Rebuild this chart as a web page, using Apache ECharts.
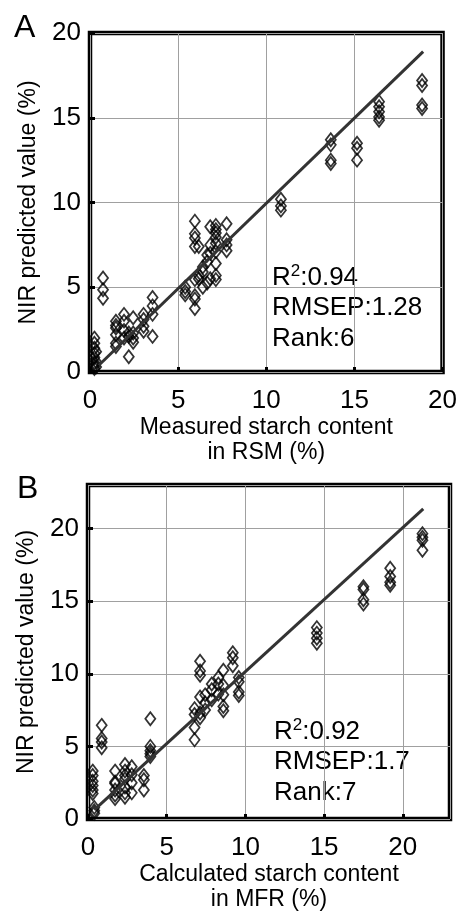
<!DOCTYPE html>
<html>
<head>
<meta charset="utf-8">
<script src="https://cdn.jsdelivr.net/npm/echarts@6/dist/echarts.min.js"></script>
<style>
  html, body { margin: 0; padding: 0; background: #fff; }
  #chart { width: 460px; height: 913px; }
</style>
</head>
<body>
<div id="chart"></div>
<script>
// panel A: RSM, measured vs predicted
var rsmMeasured = [
    0.25, 0.25, 0.25, 0.25, 0.25, 0.25, 0.25, 0.25, 0.35, 0.35, 0.35,
    0.74, 0.74, 0.74,
    1.47, 1.47, 1.47, 1.47, 1.47, 1.47,
    1.93, 1.93, 1.93, 1.93,
    2.2, 2.2, 2.2,
    2.45, 2.45, 2.45, 2.45,
    3.04, 3.04, 3.04, 3.04,
    3.55, 3.55, 3.55, 3.55,
    5.4, 5.4, 5.4,
    5.95, 5.95, 5.95, 5.95, 5.95, 5.95, 5.95, 5.95,
    6.17, 6.17, 6.17,
    6.4, 6.4, 6.4,
    6.65, 6.65, 6.65,
    6.82, 6.82, 6.82, 6.82,
    7.14, 7.14, 7.14, 7.14, 7.14, 7.14, 7.14, 7.14, 7.14,
    7.75, 7.75, 7.75, 7.75,
    10.83, 10.83, 10.83,
    13.66, 13.66, 13.66, 13.66,
    15.15, 15.15, 15.15,
    16.4, 16.4, 16.4, 16.4, 16.4,
    18.84, 18.84, 18.84, 18.84
];
var rsmPredicted = [
    2.0, 1.7, 1.4, 1.1, 0.85, 0.55, 0.35, 0.2, 1.2, 0.6, 0.3,
    5.55, 4.85, 4.35,
    3.0, 2.75, 2.6, 2.2, 1.7, 1.5,
    3.4, 3.0, 2.45, 2.0,
    0.9, 2.3, 2.1,
    3.2, 2.3, 2.0, 1.75,
    3.4, 3.1, 2.7, 2.4,
    4.4, 3.9, 3.4, 2.1,
    5.0, 4.75, 4.55,
    8.9, 8.15, 7.9, 7.4, 5.45, 4.5, 4.3, 3.75,
    7.4, 5.7, 5.5,
    6.2, 5.9, 5.0,
    6.9, 6.5, 5.25,
    8.57, 7.5, 7.0, 5.5,
    8.65, 8.4, 8.2, 7.95, 7.6, 7.1, 6.4, 5.7, 5.45,
    8.75, 7.8, 7.5, 7.15,
    10.19, 9.8, 9.55,
    13.7, 13.4, 12.5, 12.3,
    13.5, 13.2, 12.5,
    15.95, 15.65, 15.35, 15.05, 14.85,
    17.2, 16.9, 15.75, 15.55
];
var rsmFitX = [0.5, 18.9];
var rsmFitY = [0.4, 18.9];

// panel B: MFR, calculated vs predicted
var mfrCalculated = [
    0.3, 0.3, 0.3, 0.3, 0.3, 0.3, 0.4, 0.4, 0.4,
    0.87, 0.87, 0.87, 0.87,
    1.72, 1.72, 1.72, 1.72, 1.72, 1.72,
    2.35, 2.35, 2.35, 2.35, 2.35, 2.35, 2.35,
    2.78, 2.78, 2.78, 2.78,
    3.55, 3.55, 3.55,
    3.96, 3.96, 3.96, 3.96, 3.96,
    6.77, 6.77, 6.77, 6.77,
    7.12, 7.12, 7.12, 7.12, 7.12, 7.12,
    7.44, 7.44, 7.44,
    7.86, 7.86, 7.86,
    8.28, 8.28, 8.28,
    8.6, 8.6, 8.6, 8.6, 8.6,
    9.2, 9.2, 9.2,
    9.58, 9.58, 9.58, 9.58,
    14.54, 14.54, 14.54, 14.54,
    17.5, 17.5, 17.5, 17.5,
    19.2, 19.2, 19.2, 19.2,
    21.25, 21.25, 21.25, 21.25
];
var mfrPredicted = [
    3.3, 3.0, 2.6, 2.3, 2.0, 1.75, 0.8, 0.57, 0.4,
    6.45, 5.55, 5.3, 4.9,
    3.3, 2.55, 2.45, 2.0, 1.65, 1.4,
    3.75, 3.3, 3.0, 2.75, 2.2, 1.8, 1.5,
    3.6, 3.05, 2.5, 1.8,
    3.0, 2.7, 2.0,
    6.9, 5.0, 4.7, 4.5, 4.3,
    7.6, 7.2, 6.3, 5.45,
    10.86, 10.2, 9.9, 8.4, 7.3, 6.97,
    8.55, 8.0, 7.5,
    9.3, 8.9, 8.2,
    9.75, 9.3, 8.6,
    10.25, 9.2, 8.55, 7.75, 7.45,
    11.45, 11.1, 10.55,
    9.75, 9.45, 8.75, 8.5,
    13.18, 12.8, 12.45, 12.1,
    16.0, 15.8, 15.1, 14.8,
    17.27, 16.7, 16.3, 16.1,
    19.65, 19.4, 19.2, 18.5
];
var mfrFitX = [0.4, 21.3];
var mfrFitY = [0.63, 21.36];

var axisTicks = [0, 5, 10, 15, 20];

function pairs(xs, ys) {
    return xs.map(function(x, i) { return [x, ys[i]]; });
}

var font = "'Liberation Sans', Arial, sans-serif";

function valueAxis(idx, max, name, gap, pos) {
    return {
        type: 'value',
        gridIndex: idx,
        position: pos,
        min: 0,
        max: max,
        interval: 5,
        name: name,
        nameLocation: 'middle',
        nameGap: gap,
        nameTextStyle: {fontFamily: font, fontSize: 23, color: '#000', lineHeight: 25},
        axisLine: {show: false},
        axisTick: {show: true, inside: true, length: 5, lineStyle: {color: '#000', width: 3}},
        axisLabel: {
            fontFamily: font, fontSize: 26, color: '#000',
            margin: pos == 'left' ? 9 : 16,
            showMaxLabel: max == 20,
            formatter: function(v) {
                return axisTicks.indexOf(v) >= 0 ? String(v) : '';
            }
        },
        splitLine: {show: true, lineStyle: {color: '#a0a0a0', width: 1}}
    };
}

// stats box text, R with a raised 2
function statsText(r2, rmsep, rank, left, top) {
    return {
        type: 'text', left: left, top: top,
        style: {
            text: '{t|R}{s|2}{t|:' + r2 + '}\n{t|RMSEP:' + rmsep + '}\n{t|Rank:' + rank + '}',
            fontFamily: font, fontSize: 26, fill: '#000',
            rich: {
                t: {fontFamily: font, fontSize: 26, lineHeight: 30.5, fill: '#000'},
                s: {fontFamily: font, fontSize: 17, lineHeight: 30.5, fill: '#000',
                    padding: [0, 0, 12, 0]}
            }
        }
    };
}

var markerStyle = {
    color: 'rgba(255,255,255,0)',
    borderColor: '#000',
    borderWidth: 1.8
};

var myChart = echarts.init(document.getElementById('chart'), null, {renderer: 'canvas'});

myChart.setOption({
    backgroundColor: '#fff',
    animation: false,
    grid: [
        {left: 90, top: 33, width: 362, height: 339, show: true,
         borderColor: '#000', borderWidth: 4.5, backgroundColor: 'transparent'},
        {left: 88, top: 485, width: 362, height: 338, show: true,
         borderColor: '#000', borderWidth: 4.5, backgroundColor: 'transparent'}
    ],
    xAxis: [
        valueAxis(0, 20, 'Measured starch content\nin RSM (%)', 39, 'bottom'),
        valueAxis(1, 23, 'Calculated starch content\nin MFR (%)', 43, 'bottom')
    ],
    yAxis: [
        valueAxis(0, 20, 'NIR predicted value (%)', 47, 'left'),
        valueAxis(1, 23, 'NIR predicted value (%)', 47, 'left')
    ],
    graphic: [
        {type: 'text', left: 14, top: 12,
         style: {text: 'A', fontFamily: font, fontSize: 32, fill: '#000'}},
        {type: 'text', left: 17, top: 473,
         style: {text: 'B', fontFamily: font, fontSize: 32, fill: '#000'}},
        statsText('0.94', '1.28', '6', 272, 263),
        statsText('0.92', '1.7', '7', 274, 717)
    ],
    series: [
        {
            type: 'scatter', xAxisIndex: 0, yAxisIndex: 0,
            symbol: 'diamond', symbolSize: [10, 13],
            data: pairs(rsmMeasured, rsmPredicted),
            itemStyle: markerStyle
        },
        {
            type: 'line', xAxisIndex: 0, yAxisIndex: 0,
            data: pairs(rsmFitX, rsmFitY), showSymbol: false, symbol: 'none',
            lineStyle: {color: '#333', width: 3}, z: 5
        },
        {
            type: 'scatter', xAxisIndex: 1, yAxisIndex: 1,
            symbol: 'diamond', symbolSize: [10, 13],
            data: pairs(mfrCalculated, mfrPredicted),
            itemStyle: markerStyle
        },
        {
            type: 'line', xAxisIndex: 1, yAxisIndex: 1,
            data: pairs(mfrFitX, mfrFitY), showSymbol: false, symbol: 'none',
            lineStyle: {color: '#333', width: 3}, z: 5
        }
    ]
});
window.onresize = myChart.resize;
</script>
</body>
</html>
